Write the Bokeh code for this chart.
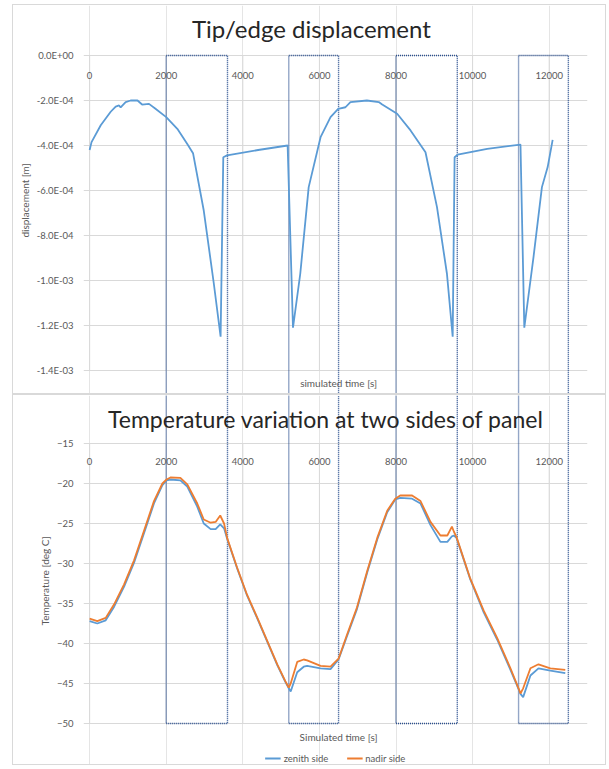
from bokeh.plotting import figure
from bokeh.models import (Range1d, LinearAxis, FixedTicker, CustomJSTickFormatter,
                          Label, Legend, LegendItem)
from bokeh.layouts import column
from bokeh.embed import file_html
from bokeh.resources import INLINE

# ---------------- data ----------------
x_ticks = [0, 2000, 4000, 6000, 8000, 10000, 12000]
disp_ticks = [0.0, -2e-4, -4e-4, -6e-4, -8e-4, -1e-3, -1.2e-3, -1.4e-3]
temp_ticks = [-15, -20, -25, -30, -35, -40, -45, -50]

box_start = [2000, 5200, 8000, 11200]
box_end = [3600, 6500, 9600, 12500]

disp_time = [0, 50, 290, 550, 680, 770, 810, 940, 1070, 1250, 1370, 1550, 1720,
             2000, 2290, 2550, 2700, 2980, 3240, 3420, 3490, 3590, 4400, 5170,
             5310, 5500, 5720, 6030, 6290, 6490, 6680, 6810, 7240, 7550, 7640,
             8030, 8380, 8770, 9070, 9330, 9480, 9530, 9610, 10380, 11250,
             11350, 11590, 11810, 11960, 12090]
disp_value = [-4.2e-4, -3.85e-4, -3.1e-4, -2.5e-4, -2.27e-4, -2.22e-4, -2.31e-4,
              -2.07e-4, -2.0e-4, -2.0e-4, -2.18e-4, -2.15e-4, -2.37e-4,
              -2.74e-4, -3.26e-4, -3.93e-4, -4.34e-4, -6.89e-4, -1.01e-3,
              -1.25e-3, -4.52e-4, -4.44e-4, -4.2e-4, -4.0e-4,
              -1.21e-3, -9.7e-4, -5.85e-4, -3.63e-4, -2.74e-4, -2.37e-4,
              -2.30e-4, -2.07e-4, -2.0e-4, -2.07e-4, -2.18e-4,
              -2.59e-4, -3.33e-4, -4.30e-4, -6.74e-4, -9.7e-4, -1.25e-3,
              -4.52e-4, -4.41e-4, -4.15e-4, -3.96e-4,
              -1.21e-3, -8.96e-4, -5.85e-4, -4.96e-4, -3.75e-4]

temp_time = [0, 200, 420, 640, 900, 1160, 1420, 1680, 1900, 2010, 2110, 2370,
             2550, 2810, 2980, 3160, 3290, 3410, 3510, 3590, 3850, 4110, 4380,
             4640, 4900, 5110, 5200, 5250, 5420, 5590, 5680, 6030, 6290, 6500,
             6720, 6980, 7250, 7510, 7770, 7980, 8110, 8420, 8640, 8900, 9160,
             9340, 9460, 9510, 9580, 9940, 10290, 10640, 10980, 11200, 11250,
             11320, 11510, 11720, 12030, 12420]
zenith = [-37.2, -37.5, -37.1, -35.4, -32.9, -29.9, -26.2, -22.5, -20.2, -19.6,
          -19.5, -19.6, -20.4, -22.9, -25.0, -25.7, -25.7, -25.1, -25.6, -26.9,
          -30.6, -34.0, -36.9, -39.8, -42.7, -44.8, -45.6, -46.0, -43.6, -42.9,
          -42.8, -43.1, -43.2, -42.0, -39.1, -35.7, -31.1, -27.0, -23.6, -22.0,
          -21.8, -21.9, -22.5, -25.2, -27.3, -27.3, -26.6, -26.5, -26.8, -32.0,
          -36.1, -39.5, -43.2, -45.7, -46.3, -46.7, -44.0, -43.1, -43.4, -43.7]
nadir = [-36.9, -37.2, -36.8, -35.1, -32.6, -29.6, -25.9, -22.2, -20.0, -19.5,
         -19.25, -19.3, -20.1, -22.5, -24.5, -24.9, -24.8, -24.0, -25.0, -26.8,
         -30.5, -33.9, -36.8, -39.7, -42.6, -44.7, -45.5, -45.0, -42.3, -42.0,
         -42.1, -42.8, -42.9, -41.9, -38.9, -35.5, -30.9, -26.8, -23.4, -21.9,
         -21.5, -21.5, -22.2, -24.8, -26.5, -26.5, -25.4, -26.0, -26.7, -31.9,
         -35.9, -39.3, -43.0, -45.6, -46.25, -45.6, -43.1, -42.6, -43.1, -43.3]

# ---------------- style / layout ----------------
FONT = "Lato"
GRID = "#d9d9d9"
TXT = "#595959"
BLUE = "#5b9bd5"
ORANGE = "#ed7d31"
DOT = "#2a4f8f"
X_MIN, X_MAX = -160, 13000   # a small pad left of 0 keeps the "0" label unclipped
PX_PER_X = 498 / 13000.0
PAD = round(-X_MIN * PX_PER_X)

FIG_W = 594
BORDER_L, BORDER_R = 76 - PAD, 20

# top chart geometry (local pixels)
T_H = 390
T_ZERO = 50          # local y of the 0 line
T_SPAN = 315         # pixels from 0 to -1.4e-3
t_scale = T_SPAN / abs(disp_ticks[-1])
t_y_end = T_ZERO / t_scale
t_y_start = -(T_H - T_ZERO) / t_scale

# bottom chart geometry
B_H = 371
B_TOP = 48           # local y of the -15 line
b_scale = 8.0        # px per degree
b_y_end = temp_ticks[0] + B_TOP / b_scale
b_y_start = temp_ticks[-1] - (B_H - B_TOP - (temp_ticks[0] - temp_ticks[-1]) * b_scale) / b_scale

exp_fmt = CustomJSTickFormatter(code="""
const s = tick.toExponential(1).toUpperCase();
const parts = s.split("E");
const e = parseInt(parts[1]);
const a = Math.abs(e);
return parts[0] + "E" + (e < 0 ? "-" : "+") + (a < 10 ? "0" + a : "" + a);
""")


def style_common(p):
    p.outline_line_color = None
    p.background_fill_color = "white"
    p.border_fill_color = "white"
    y = p.yaxis[0]
    y.axis_line_color = None
    y.major_tick_line_color = None
    y.minor_tick_line_color = None
    y.major_label_text_font = FONT
    y.major_label_text_font_size = "9.5px"
    y.major_label_text_color = TXT
    y.major_label_standoff = 10 - PAD
    y.axis_label_text_font = FONT
    y.axis_label_text_font_size = "10px"
    y.axis_label_text_font_style = "normal"
    y.axis_label_text_color = TXT
    p.ygrid.grid_line_color = GRID
    p.ygrid.bounds = (x_ticks[0], X_MAX)


def x_axis(loc, standoff):
    ax = LinearAxis(ticker=FixedTicker(ticks=x_ticks), fixed_location=loc)
    ax.axis_line_color = None
    ax.major_tick_line_color = None
    ax.minor_tick_line_color = None
    ax.major_label_text_font = FONT
    ax.major_label_text_font_size = "9.5px"
    ax.major_label_text_color = TXT
    ax.major_label_standoff = standoff
    return ax


# ---------------- top chart ----------------
p1 = figure(width=FIG_W, height=T_H, output_backend="svg", toolbar_location=None,
            x_axis_location=None, x_range=Range1d(X_MIN, X_MAX),
            y_range=Range1d(t_y_start, t_y_end),
            min_border_left=BORDER_L, min_border_right=BORDER_R, min_border_top=0,
            min_border_bottom=0)
p1.yaxis.ticker = FixedTicker(ticks=disp_ticks)
p1.ygrid.ticker = FixedTicker(ticks=disp_ticks)
p1.yaxis.formatter = exp_fmt
p1.yaxis.bounds = (disp_ticks[-1], disp_ticks[0])
p1.yaxis.axis_label = "displacement [m]"
style_common(p1)
p1.yaxis.axis_label_standoff = 3
p1.add_layout(x_axis(0, 10), "below")

p1.segment(x0=x_ticks, y0=[disp_ticks[0]] * len(x_ticks), x1=x_ticks,
           y1=[disp_ticks[-1]] * len(x_ticks), line_color=GRID, line_width=1)
p1.multi_line(xs=[[s, s, e, e] for s, e in zip(box_start, box_end)],
              ys=[[t_y_start, 0, 0, t_y_start] for _ in box_start],
              line_color=DOT, line_width=1.4, line_dash="1 1")
p1.line(disp_time, disp_value, line_color=BLUE, line_width=1.8)

p1.add_layout(Label(x=5790, y=27 / t_scale, text="Tip/edge displacement",
                    text_font=FONT, text_font_size="24px", text_color="#262626",
                    text_align="center", text_baseline="middle"))
p1.add_layout(Label(x=6500, y=-327 / t_scale, text="simulated time [s]",
                    text_font=FONT, text_font_size="10px", text_color=TXT,
                    text_align="center", text_baseline="middle"))
p1.styles = {"border": "1px solid #d9d9d9"}
p1.margin = (4, 0, 0, 12)

# ---------------- bottom chart ----------------
p2 = figure(width=FIG_W, height=B_H, output_backend="svg", toolbar_location=None,
            x_axis_location=None, x_range=Range1d(X_MIN, X_MAX),
            y_range=Range1d(b_y_start, b_y_end),
            min_border_left=BORDER_L, min_border_right=BORDER_R, min_border_top=0,
            min_border_bottom=0)
p2.yaxis.ticker = FixedTicker(ticks=temp_ticks)
p2.ygrid.ticker = FixedTicker(ticks=temp_ticks)
p2.yaxis.bounds = (temp_ticks[-1], temp_ticks[0])
p2.yaxis.axis_label = "Temperature [deg C]"
style_common(p2)
p2.yaxis.axis_label_standoff = 3
p2.add_layout(x_axis(temp_ticks[0], 8), "below")

p2.segment(x0=x_ticks, y0=[temp_ticks[0]] * len(x_ticks), x1=x_ticks,
           y1=[temp_ticks[-1]] * len(x_ticks), line_color=GRID, line_width=1)
p2.multi_line(xs=[[s, s, e, e] for s, e in zip(box_start, box_end)],
              ys=[[b_y_end, temp_ticks[-1], temp_ticks[-1], b_y_end] for _ in box_start],
              line_color=DOT, line_width=1.4, line_dash="1 1")
r_zen = p2.line(temp_time, zenith, line_color=BLUE, line_width=1.8)
r_nad = p2.line(temp_time, nadir, line_color=ORANGE, line_width=1.8)

p2.add_layout(Label(x=6170, y=temp_ticks[0] + 25 / b_scale,
                    text="Temperature variation at two sides of panel",
                    text_font=FONT, text_font_size="23px", text_color="#262626",
                    text_align="center", text_baseline="middle"))
p2.add_layout(Label(x=6500, y=temp_ticks[-1] - 13 / b_scale, text="Simulated time [s]",
                    text_font=FONT, text_font_size="10px", text_color=TXT,
                    text_align="center", text_baseline="middle"))

legend = Legend(items=[LegendItem(label="zenith side", renderers=[r_zen]),
                       LegendItem(label="nadir side", renderers=[r_nad])],
                orientation="horizontal", location="bottom_center",
                border_line_color=None, background_fill_alpha=0,
                label_text_font=FONT, label_text_font_size="9.5px",
                label_text_color=TXT, glyph_width=16, glyph_height=12,
                label_standoff=3, spacing=18, padding=3, margin=2)
p2.add_layout(legend)
p2.styles = {"border": "1px solid #d9d9d9"}
p2.margin = (0, 0, 0, 12)

layout = column(p1, p2)
open("out.html", "w").write(file_html(layout, INLINE))
